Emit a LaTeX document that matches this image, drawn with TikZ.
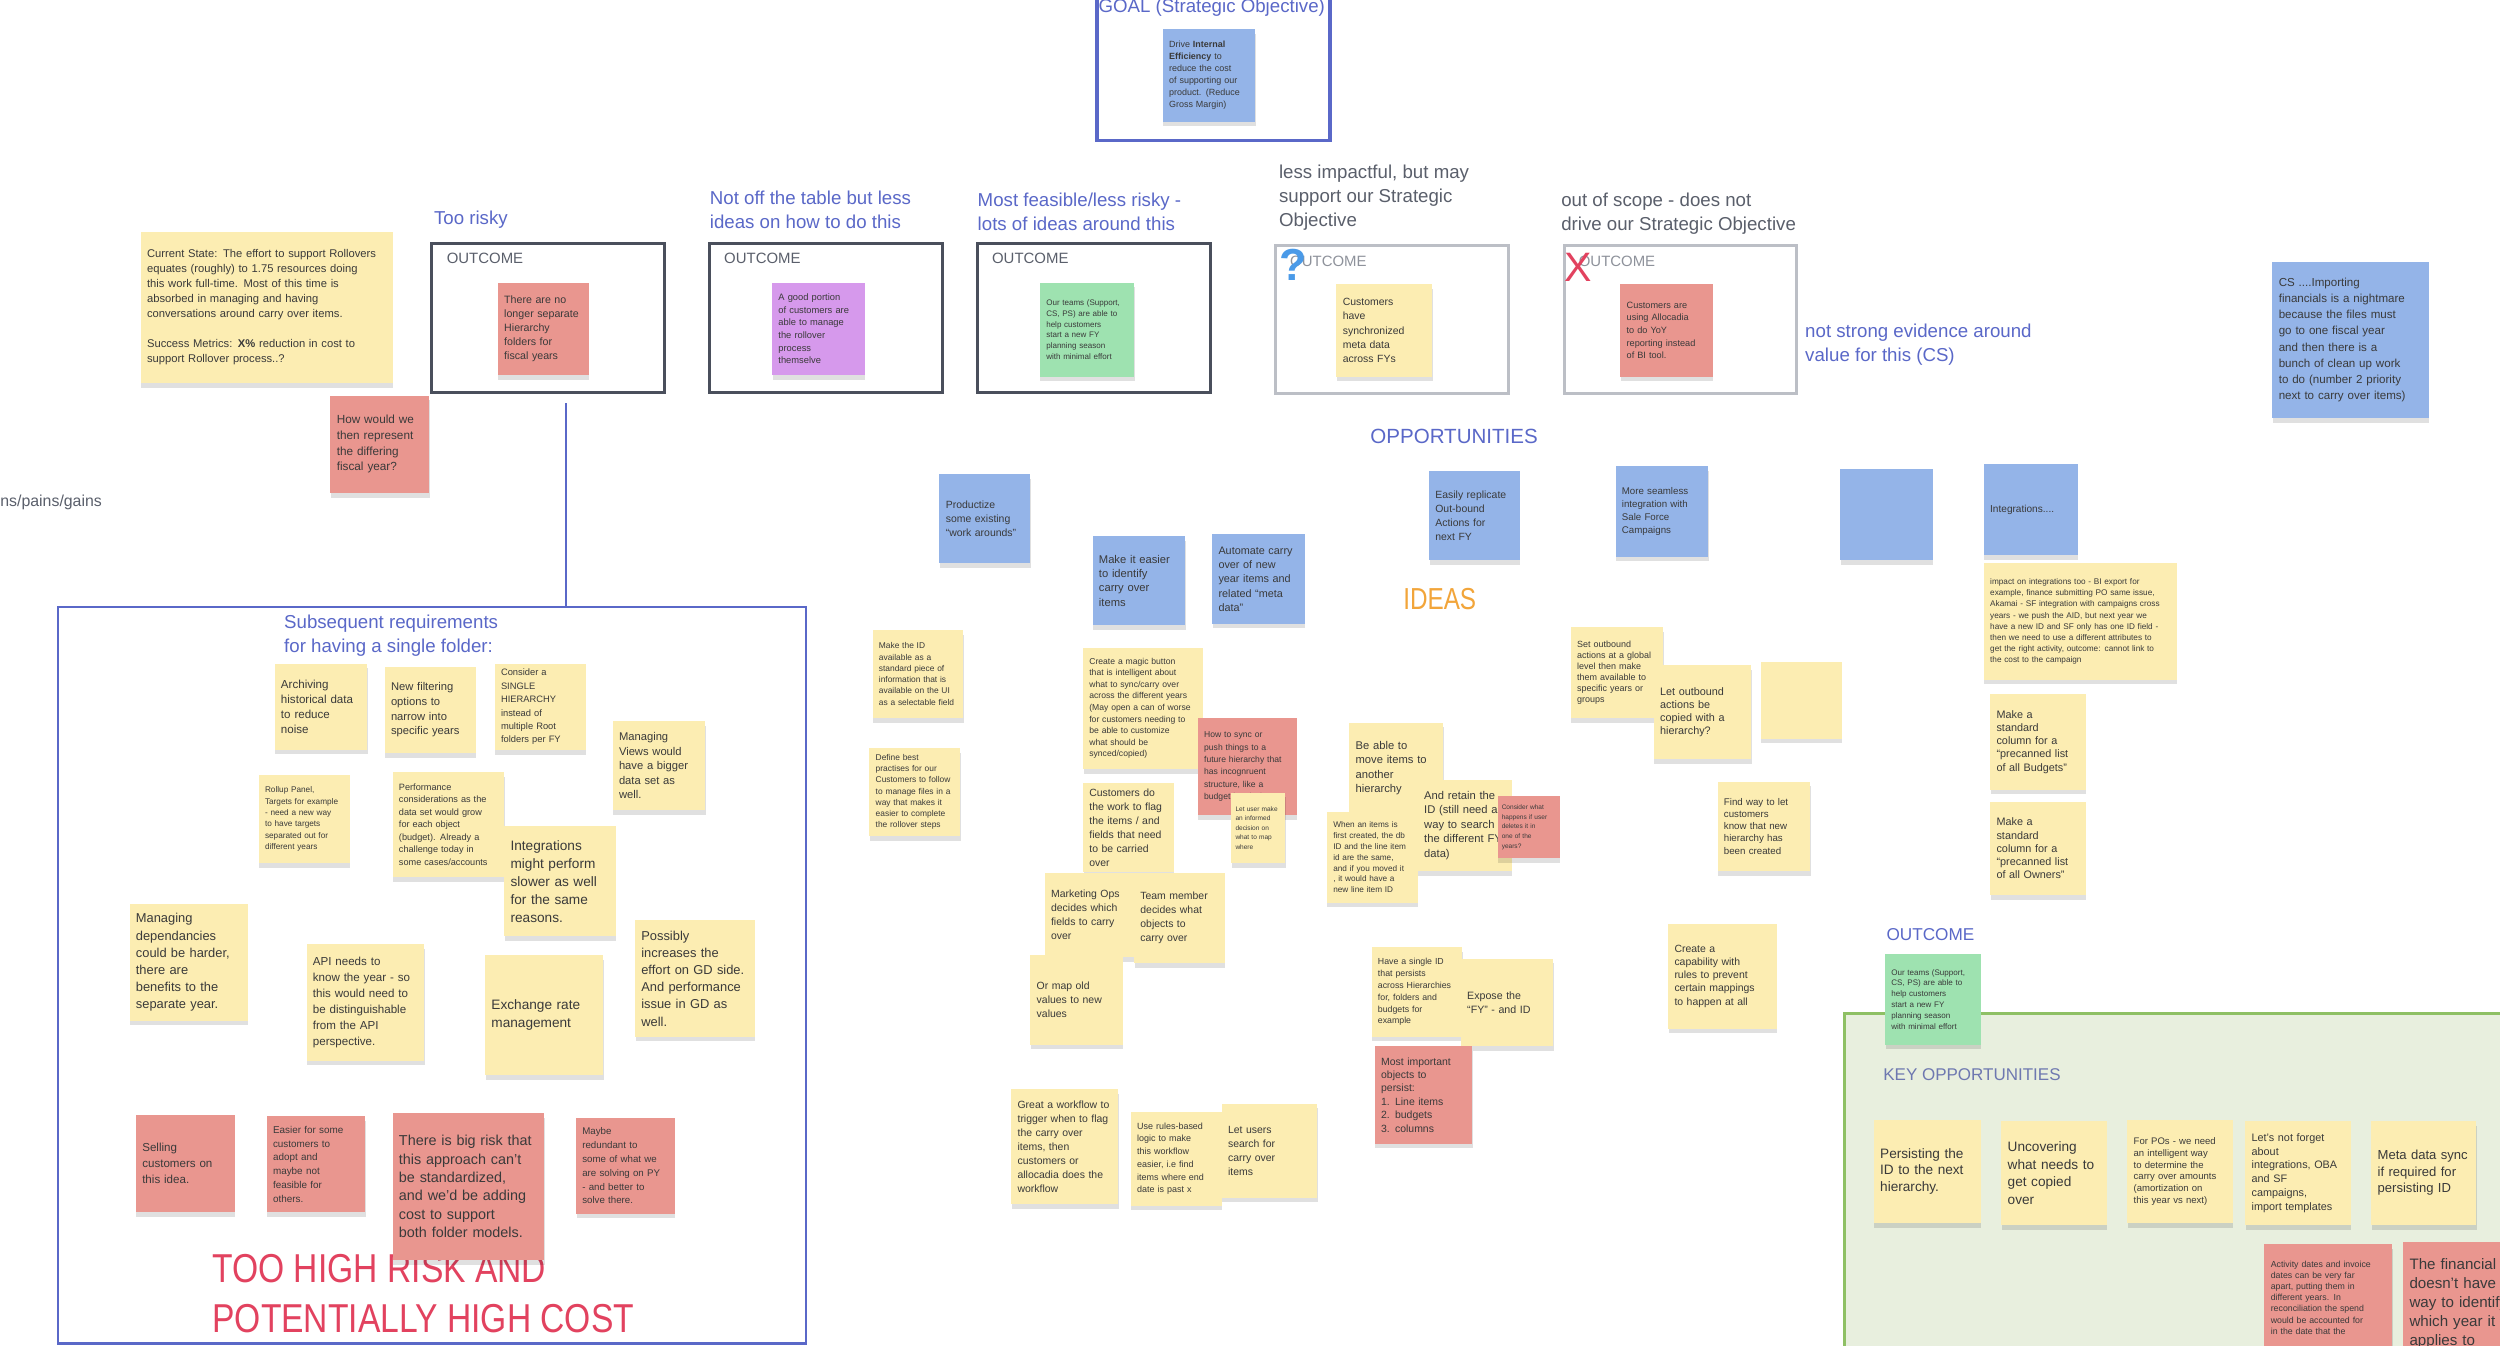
\documentclass[tikz,border=0pt]{standalone}
\usepackage{fontspec}
\setmainfont{Liberation Sans}
\usetikzlibrary{shadows,calc}

\definecolor{stY}{HTML}{FCEDB2}
\definecolor{stR}{HTML}{E9968F}
\definecolor{stB}{HTML}{94B4E8}
\definecolor{stP}{HTML}{D699EC}
\definecolor{stG}{HTML}{9EE2B0}
\definecolor{lblue}{HTML}{5A68C8}
\definecolor{lgray}{HTML}{5A5F6B}
\definecolor{lgray2}{HTML}{8E929B}
\definecolor{boxdark}{HTML}{4A4F5C}
\definecolor{boxlight}{HTML}{BCBFC6}
\definecolor{keyfill}{HTML}{E8EFDE}
\definecolor{keyline}{HTML}{8EC064}
\definecolor{ideaor}{HTML}{F2A53A}
\definecolor{riskred}{HTML}{E2425F}
\definecolor{notetxt}{HTML}{3A3A3A}
\definecolor{qblue}{HTML}{4A9AE8}
\definecolor{keyblue}{HTML}{6E78B0}

\newcommand\fz[2]{\fontsize{#1}{#2}\selectfont}
\newcommand\tallr[1]{\scalebox{1}[1.2]{#1}}

\tikzset{
  sz/.style 2 args={minimum width=#1*0.03cm, minimum height=#2*0.03cm},
  wh/.style 2 args={sz={#1}{#2}, text width=#1*0.03cm-0.24cm},
  note/.style={anchor=north west, inner xsep=0.12cm, inner ysep=0.1cm, align=left, text=notetxt,
    drop shadow={shadow xshift=0.3pt, shadow yshift=-2.5pt, opacity=0.12, fill=black}},
  ynote/.style={note, fill=stY},
  rnote/.style={note, fill=stR},
  bnote/.style={note, fill=stB},
  pnote/.style={note, fill=stP},
  gnote/.style={note, fill=stG},
  obox/.style={anchor=north west, draw=boxdark, line width=1.6pt, sz={146}{93}},
  lbox/.style={obox, draw=boxlight},
  otxt/.style={anchor=west, inner sep=0pt, text=lgray, font=\fz{8}{9}},
  lbl/.style={anchor=west, inner sep=0pt, align=left, text=lblue, font=\fz{10}{12.8}},
  glbl/.style={lbl, text=lgray},
}

\begin{document}
\begin{tikzpicture}[x=0.03cm, y=-0.03cm]
\useasboundingbox (0,0) rectangle (1568,844);
\clip (0,0) rectangle (1568,844);
\fill[white] (0,0) rectangle (1568,844);

\node[obox, draw=lblue, line width=2pt, sz={146}{93}] (goalbox) at (687,-6) {};
\node[lbl, anchor=center] (goalt) at (760,5) {GOAL (Strategic Objective)};
\node[bnote, wh={58}{58}, font=\fz{4.8}{6.4}] (goal) at (729,18) {Drive \textbf{Internal}\\\textbf{Efficiency} to\\reduce the cost\\of supporting our\\product. (Reduce\\Gross Margin)};

\node[lbl] (lrisky) at (272,138) {Too risky};
\node[lbl] (ltable) at (445,131.5) {Not off the table but less\\ideas on how to do this};
\node[lbl] (lfeas) at (613,133) {Most feasible/less risky -\\lots of ideas around this};
\node[glbl] (limpact) at (802,124) {less impactful, but may\\support our Strategic\\Objective};
\node[glbl] (lscope) at (979,134) {out of scope - does not\\drive our Strategic Objective};
\node[lbl] (levid) at (1132,216) {not strong evidence around\\value for this (CS)};

\node[obox] (ob1) at (270,152) {};
\node[obox] (ob2) at (444,152) {};
\node[obox] (ob3) at (612,152) {};
\node[lbox] (ob4) at (799,153) {};
\node[lbox] (ob5) at (980,153) {};
\node[otxt] (oc1) at ($(ob1.north west)+(10,10)$) {OUTCOME};
\node[otxt] (oc2) at ($(ob2.north west)+(10,10)$) {OUTCOME};
\node[otxt] (oc3) at ($(ob3.north west)+(10,10)$) {OUTCOME};
\node[otxt, text=lgray2] (oc4) at ($(ob4.north west)+(10,11)$) {OUTCOME};
\node[otxt, text=lgray2] (oc5) at ($(ob5.north west)+(10,11)$) {OUTCOME};
\node[text=qblue, font=\fz{24}{24}\bfseries, inner sep=0pt] (qmark) at (811,166) {?};
\node[text=riskred, font=\fz{22}{22}, inner sep=0pt] (xmark) at (990,168) {X};

\node[ynote, wh={158}{95}, font=\fz{6}{8}] (curstate) at (88,145) {Current State: The effort to support Rollovers\\equates (roughly) to 1.75 resources doing\\this work full-time. Most of this time is\\absorbed in managing and having\\conversations around carry over items.\\[8pt]Success Metrics: \textbf{X\%} reduction in cost to\\support Rollover process..?};
\node[rnote, wh={57}{58}, font=\fz{5.7}{7.6}] (riskyn) at (312,177) {There are no\\longer separate\\Hierarchy\\folders for\\fiscal years};
\node[rnote, wh={62}{61}, font=\fz{6.3}{8.4}] (howrep) at (207,248) {How would we\\then represent\\the differing\\fiscal year?};
\node[pnote, wh={58}{58}, font=\fz{5}{6.8}] (portion) at (484,177) {A good portion\\of customers are\\able to manage\\the rollover\\process\\themselve};
\node[gnote, wh={59}{59}, font=\fz{4.3}{5.8}] (ourteams) at (652,177) {Our teams (Support,\\CS, PS) are able to\\help customers\\start a new FY\\planning season\\with minimal effort};
\node[ynote, wh={60}{58}, font=\fz{5.6}{7.7}] (synced) at (838,178) {Customers\\have\\synchronized\\meta data\\across FYs};
\node[rnote, wh={58}{58}, font=\fz{4.9}{6.8}] (allocadia) at (1016,178) {Customers are\\using Allocadia\\to do YoY\\reporting instead\\of BI tool.};
\node[bnote, wh={98}{98}, font=\fz{6.2}{8.6}] (importing) at (1425,164) {CS ....Importing\\financials is a nightmare\\because the files must\\go to one fiscal year\\and then there is a\\bunch of clean up work\\to do (number 2 priority\\next to carry over items)};

\node[lbl, text=lblue, font=\fz{11}{12}, anchor=center] (lopp) at (912,274) {OPPORTUNITIES};
\node[lbl, text=lgray, font=\fz{8.5}{9}] (pains) at (0,315) {ns/pains/gains};

\coordinate (lnTop) at (355,253);
\node[anchor=north west, draw=lblue, line width=1.1pt, sz={469}{462}] (reqbox) at (36,380) {};
\draw[lblue, line width=1.3pt] (lnTop) -- (lnTop |- reqbox.north);
\node[lbl] (lsubseq) at (178,398.5) {Subsequent requirements\\for having a single folder:};

\node[ynote, wh={58}{54}, font=\fz{6.2}{8}] (archiv) at (172,416) {Archiving\\historical data\\to reduce\\noise};
\node[ynote, wh={57}{54}, font=\fz{6}{7.9}] (filtering) at (241,418) {New filtering\\options to\\narrow into\\specific years};
\node[ynote, wh={57}{54}, font=\fz{5}{7.2}] (singleh) at (310,416) {Consider a\\SINGLE\\HIERARCHY\\instead of\\multiple Root\\folders per FY};
\node[ynote, wh={58}{56}, font=\fz{6}{7.8}] (views) at (384,452) {Managing\\Views would\\have a bigger\\data set as\\well.};
\node[ynote, wh={57}{55}, font=\fz{4.4}{6.1}] (rollup) at (162,486) {Rollup Panel,\\Targets for example\\- need a new way\\to have targets\\separated out for\\different years};
\node[ynote, wh={70}{66}, font=\fz{4.9}{6.7}] (perf) at (246,484) {Performance\\considerations as the\\data set would grow\\for each object\\(budget). Already a\\challenge today in\\some cases/accounts};
\node[ynote, wh={70}{69}, font=\fz{7.3}{9.6}] (integ) at (316,518) {Integrations\\might perform\\slower as well\\for the same\\reasons.};
\node[ynote, wh={74}{73}, font=\fz{6.9}{9.2}] (depend) at (81,567) {Managing\\dependancies\\could be harder,\\there are\\benefits to the\\separate year.};
\node[ynote, wh={74}{73}, font=\fz{6.2}{8.6}] (api) at (192,592) {API needs to\\know the year - so\\this would need to\\be distinguishable\\from the API\\perspective.};
\node[ynote, wh={74}{75}, font=\fz{7.3}{9.6}] (exch) at (304,599) {Exchange rate\\management};
\node[ynote, wh={75}{73}, font=\fz{6.9}{9.2}] (gdside) at (398,577) {Possibly\\increases the\\effort on GD side.\\And performance\\issue in GD as\\well.};

\node[anchor=west, inner sep=0pt, align=left, text=riskred, font=\fz{18}{26.5}] (toohigh) at (133,811.5) {\tallr{TOO HIGH RISK AND}\\\tallr{POTENTIALLY HIGH COST}};
\node[rnote, wh={62}{61}, font=\fz{6.2}{8.6}] (selling) at (85,699) {Selling\\customers on\\this idea.};
\node[rnote, wh={62}{60}, font=\fz{5.3}{7.4}] (easier) at (167,700) {Easier for some\\customers to\\adopt and\\maybe not\\feasible for\\others.};
\node[rnote, wh={95}{92}, font=\fz{7.7}{9.9}] (bigrisk) at (246,698) {There is big risk that\\this approach can't\\be standardized,\\and we'd be adding\\cost to support\\both folder models.};
\node[rnote, wh={62}{60}, font=\fz{5.2}{7.4}] (redund) at (361,701) {Maybe\\redundant to\\some of what we\\are solving on PY\\- and better to\\solve there.};

\node[bnote, wh={57}{56}, font=\fz{5.6}{7.5}] (productize) at (589,297) {Productize\\some existing\\``work arounds''};
\node[bnote, wh={58}{56}, font=\fz{6}{7.7}] (identify) at (685,336) {Make it easier\\to identify\\carry over\\items};
\node[bnote, wh={58}{56}, font=\fz{5.8}{7.6}] (automate) at (760,335) {Automate carry\\over of new\\year items and\\related ``meta\\data''};
\node[bnote, wh={57}{56}, font=\fz{5.6}{7.5}] (replicate) at (896,295) {Easily replicate\\Out-bound\\Actions for\\next FY};
\node[bnote, wh={58}{57}, font=\fz{5.2}{6.9}] (seamless) at (1013,292) {More seamless\\integration with\\Sale Force\\Campaigns};
\node[bnote, wh={58}{57}] (emptyb) at (1154,294) {};
\node[bnote, wh={59}{57}, font=\fz{5.4}{7}] (integrations) at (1244,291) {Integrations....};
\node[lbl, text=ideaor, font=\fz{13}{14}, anchor=center] (lideas) at (903,376) {\scalebox{1}[1.25]{IDEAS}};

\node[ynote, wh={57}{55}, font=\fz{4.5}{6}] (makeid) at (547,395) {Make the ID\\available as a\\standard piece of\\information that is\\available on the UI\\as a selectable field};
\node[ynote, wh={57}{55}, font=\fz{4.5}{6}] (bestprac) at (545,469) {Define best\\practises for our\\Customers to follow\\to manage files in a\\way that makes it\\easier to complete\\the rollover steps};
\node[ynote, wh={75}{76}, font=\fz{4.6}{6.2}] (magic) at (679,406) {Create a magic button\\that is intelligent about\\what to sync/carry over\\across the different years\\(May open a can of worse\\for customers needing to\\be able to customize\\what should be\\synced/copied)};
\node[rnote, wh={62}{61}, font=\fz{4.6}{6.6}] (incongr) at (751,450) {How to sync or\\push things to a\\future hierarchy that\\has incognruent\\structure, like a\\budget is missing};
\node[ynote, wh={34}{44}, inner xsep=0.08cm, text width=34*0.03cm-0.16cm, font=\fz{3.5}{5.1}] (informed) at (772,497) {Let user make\\an informed\\decision on\\what to map\\where};
\node[ynote, wh={57}{55}, font=\fz{5.6}{7.5}] (flagitems) at (679,491) {Customers do\\the work to flag\\the items / and\\fields that need\\to be carried\\over};
\node[ynote, wh={58}{53}, font=\fz{5.6}{7.6}] (mktops) at (655,547) {Marketing Ops\\decides which\\fields to carry\\over};
\node[ynote, wh={57}{57}, font=\fz{5.6}{7.6}] (teammember) at (711,547) {Team member\\decides what\\objects to\\carry over};
\node[ynote, wh={58}{56}, font=\fz{5.6}{7.6}] (mapold) at (646,599) {Or map old\\values to new\\values};
\node[ynote, wh={67}{72}, font=\fz{5.6}{7.5}] (workflow) at (634,683) {Great a workflow to\\trigger when to flag\\the carry over\\items, then\\customers or\\allocadia does the\\workflow};
\node[ynote, wh={57}{59}, font=\fz{4.8}{6.8}] (rules) at (709,697) {Use rules-based\\logic to make\\this workflow\\easier, i.e find\\items where end\\date is past x};
\node[ynote, wh={60}{59}, font=\fz{5.6}{7.5}] (searchc) at (766,692) {Let users\\search for\\carry over\\items};

\node[ynote, wh={59}{57}, font=\fz{6}{7.7}] (moveitems) at (846,453) {Be able to\\move items to\\another\\hierarchy};
\node[ynote, wh={59}{57}, font=\fz{6}{7.7}] (retain) at (889,489) {And retain the\\ID (still need a\\way to search\\the different FY\\data)};
\node[ynote, wh={57}{57}, font=\fz{4.4}{5.8}] (firstcr) at (832,509) {When an items is\\first created, the db\\ID and the line item\\id are the same,\\and if you moved it\\, it would have a\\new line item ID};
\node[rnote, wh={39}{39}, inner xsep=0.08cm, text width=39*0.03cm-0.16cm, font=\fz{3.5}{5.2}] (deleted) at (939,499) {Consider what\\happens if user\\deletes it in\\one of the\\years?};
\node[ynote, wh={57}{56}, font=\fz{4.7}{6.3}] (singleid) at (860,594) {Have a single ID\\that persists\\across Hierarchies\\for, folders and\\budgets for\\example};
\node[ynote, wh={58}{55}, font=\fz{5.7}{7.5}] (exposefy) at (916,601) {Expose the\\``FY'' - and ID};
\node[rnote, wh={61}{61}, font=\fz{5.6}{7.2}] (mostimp) at (862,656) {Most important\\objects to\\persist:\\1. Line items\\2. budgets\\3. columns};

\node[ynote, wh={58}{57}, font=\fz{4.8}{5.9}] (setout) at (985,393) {Set outbound\\actions at a global\\level then make\\them available to\\specific years or\\groups};
\node[ynote, wh={61}{59}, font=\fz{5.8}{7.1}] (letout) at (1037,417) {Let outbound\\actions be\\copied with a\\hierarchy?};
\node[ynote, wh={51}{48}] (emptyy) at (1104,415) {};
\node[ynote, wh={58}{56}, font=\fz{5.2}{6.5}] (findway) at (1077,490) {Find way to let\\customers\\know that new\\hierarchy has\\been created};
\node[ynote, wh={68}{66}, font=\fz{5.6}{7.1}] (capab) at (1046,579) {Create a\\capability with\\rules to prevent\\certain mappings\\to happen at all};
\node[ynote, wh={121}{73}, font=\fz{4.4}{5.9}] (impactint) at (1244,353) {impact on integrations too - BI export for\\example, finance submitting PO same issue,\\Akamai - SF integration with campaigns cross\\years - we push the AID, but next year we\\have a new ID and SF only has one ID field -\\then we need to use a different attributes to\\get the right activity, outcome: cannot link to\\the cost to the campaign\\[9pt]};
\node[ynote, wh={60}{60}, font=\fz{5.8}{7.1}] (budgets) at (1248,435) {Make a\\standard\\column for a\\``precanned list\\of all Budgets''};
\node[ynote, wh={60}{58}, font=\fz{5.8}{7.1}] (owners) at (1248,503) {Make a\\standard\\column for a\\``precanned list\\of all Owners''};

\node[anchor=north west, fill=keyfill, draw=keyline, line width=1.4pt, sz={420}{220}] (keybox) at (1156,635) {};
\node[lbl, font=\fz{9.2}{10}] (lout) at (1183,586) {OUTCOME};
\node[gnote, wh={60}{57}, font=\fz{4.3}{5.8}] (ourteams2) at (1182,598) {Our teams (Support,\\CS, PS) are able to\\help customers\\start a new FY\\planning season\\with minimal effort};
\node[lbl, text=keyblue, font=\fz{9.1}{10}] (lkey) at (1181,674) {KEY OPPORTUNITIES};
\node[ynote, wh={67}{65}, font=\fz{7.3}{9}] (persist) at (1175,702) {Persisting the\\ID to the next\\hierarchy.};
\node[ynote, wh={66}{65}, font=\fz{7.3}{9.4}] (uncover) at (1255,703) {Uncovering\\what needs to\\get copied\\over};
\node[ynote, wh={66}{65}, font=\fz{5.1}{6.3}] (forpos) at (1334,702) {For POs - we need\\an intelligent way\\to determine the\\carry over amounts\\(amortization on\\this year vs next)};
\node[ynote, wh={66}{65}, font=\fz{5.8}{7.4}] (letsnot) at (1408,703) {Let's not forget\\about\\integrations, OBA\\and SF\\campaigns,\\import templates};
\node[ynote, wh={66}{65}, font=\fz{7}{8.8}] (metasync) at (1487,703) {Meta data sync\\if required for\\persisting ID};
\node[rnote, wh={80}{20}, inner ysep=0.33cm, font=\fz{4.7}{5.9}] (actdates) at (1420,780) {Activity dates and invoice\\dates can be very far\\apart, putting them in\\different years. In\\reconciliation the spend\\would be accounted for\\in the date that the};
\node[rnote, wh={72}{20}, inner ysep=0.3cm, font=\fz{8.1}{10.2}] (financial) at (1507,779) {The financial\\doesn't have\\way to identify\\which year it\\applies to};
\end{tikzpicture}
\end{document}
